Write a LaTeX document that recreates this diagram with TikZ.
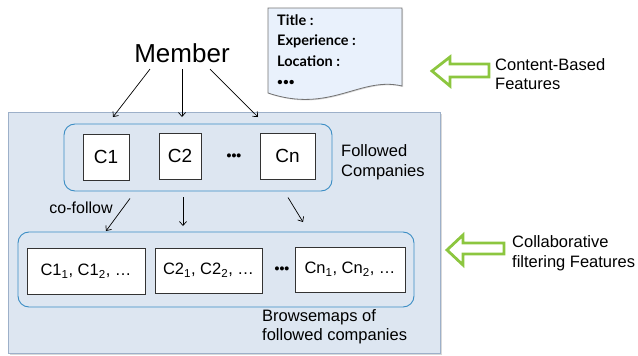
\documentclass[tikz,border=0pt]{standalone}
\usepackage{fontspec}
\setmainfont{Liberation Sans}
\newfontfamily\docfont{Lato}
\usetikzlibrary{shadows,arrows.meta}
\definecolor{panelfill}{HTML}{DDE6F1}
\definecolor{panelline}{HTML}{9DB0C9}
\definecolor{grpblue}{HTML}{3B8DC4}
\definecolor{docfill}{HTML}{E9F1FC}
\definecolor{featgreen}{HTML}{8CC63F}
\begin{document}
\begin{tikzpicture}[x=1pt,y=-1pt, >={Straight Barb[length=4pt,width=7pt]},
  comp/.style={draw=black!80, fill=white, line width=0.8pt, inner sep=0pt,
    drop shadow={shadow xshift=1pt, shadow yshift=-1pt, opacity=0.35},
    font=\fontsize{19}{21}\selectfont},
  bmap/.style={comp, font=\fontsize{16.5}{19}\selectfont},
  group/.style={draw=grpblue, line width=0.9pt, rounded corners=11pt, inner sep=0pt},
  lbl/.style={font=\fontsize{16.5}{19.5}\selectfont, align=left, inner sep=0pt},
  doctxt/.style={font=\docfont\bfseries\fontsize{14.5}{16}\selectfont, anchor=west, inner sep=0pt},
  dots/.style={font=\bfseries\fontsize{14}{14}\selectfont, inner sep=0pt},
  featarrow/.style={draw=featgreen, line width=2.8pt, line join=miter},
  link/.style={->, line width=0.7pt}]
  \useasboundingbox (0,0) rectangle (638,356);

  % Hintergrund
  \draw[draw=panelline, fill=panelfill, line width=1pt,
    drop shadow={shadow xshift=1.5pt, shadow yshift=-1.5pt, opacity=0.3}] (8,112) rectangle (440,353);

  % Profil
  \draw[draw=black!55, fill=docfill, line width=0.8pt,
    drop shadow={shadow xshift=1pt, shadow yshift=-1pt, opacity=0.3}]
    (268,8) -- (402,8) -- (402,86) .. controls (360,76) and (330,114) .. (268,93) -- cycle;
  \node[doctxt] (title) at (277,20) {Title :};
  \node[doctxt] (exp) at (277,41) {Experience :};
  \node[doctxt] (loc) at (277,61) {Location :};
  \node[doctxt, font=\docfont\bfseries\fontsize{10}{10}\selectfont] (more) at (277,83) {•••};

  \node[font=\fontsize{26}{28}\selectfont] (mem) at (182,53) {Member};

  \node[group, minimum width=268, minimum height=67] (fol) at (198,157.5) {};
  \node[comp, minimum width=46, minimum height=46] (c1) at (106,157) {C1};
  \node[comp, minimum width=42, minimum height=46] (c2) at (180,156) {C2};
  \node[dots] (cdots) at (234,157) {•••};
  \node[comp, minimum width=55, minimum height=46] (cn) at (287.5,156) {Cn};
  \node[lbl, anchor=west] (folt) at (341,162) {Followed\\Companies};

  \node[group, minimum width=396, minimum height=75] (brw) at (216,269.5) {};
  \node[bmap, minimum width=118, minimum height=46] (b1) at (86,271) {C1\textsubscript{1}, C1\textsubscript{2}, …};
  \node[bmap, minimum width=107, minimum height=45] (b2) at (208.5,270.5) {C2\textsubscript{1}, C2\textsubscript{2}, …};
  \node[dots] (bdots) at (282,270) {•••};
  \node[bmap, minimum width=110, minimum height=45] (bn) at (350,269.5) {Cn\textsubscript{1}, Cn\textsubscript{2}, …};
  \node[lbl, anchor=north west] (brwt) at (262,309) {Browsemaps of\\followed companies};

  \node[font=\fontsize{16}{18}\selectfont] (cof) at (81,208) {co-follow};

  % Pfeile
  \coordinate (a1) at (113,117);
  \coordinate (a2) at (182,117);
  \coordinate (a3) at (258,117);
  \draw[link] ([xshift=-32pt,yshift=-3pt]mem.south) -- (a1);
  \draw[link] ([yshift=-3pt]mem.south) -- (a2);
  \draw[link] ([xshift=28pt,yshift=-3pt]mem.south) -- (a3);

  \coordinate (d1) at (106,231);
  \coordinate (d2) at (183,226);
  \coordinate (d3) at (303,222);
  \draw[link] ([xshift=-68pt,yshift=-7pt]fol.south) -- (d1);
  \draw[link] ([xshift=-15pt,yshift=-6pt]fol.south) -- (d2);
  \draw[link] ([xshift=90pt,yshift=-6pt]fol.south) -- (d3);

  % Merkmale
  \draw[featarrow] (432,71) -- (450,57) -- (450,64) -- (489,64) -- (489,77) -- (450,77) -- (450,86) -- cycle;
  \node[lbl, anchor=west] (cbt) at (495,74) {Content-Based\\Features};
  \draw[featarrow] (447,250) -- (463,235) -- (463,243) -- (504,243) -- (504,254) -- (463,254) -- (463,265) -- cycle;
  \node[lbl, anchor=west] (cft) at (512,253) {Collaborative\\filtering Features};
\end{tikzpicture}
\end{document}
